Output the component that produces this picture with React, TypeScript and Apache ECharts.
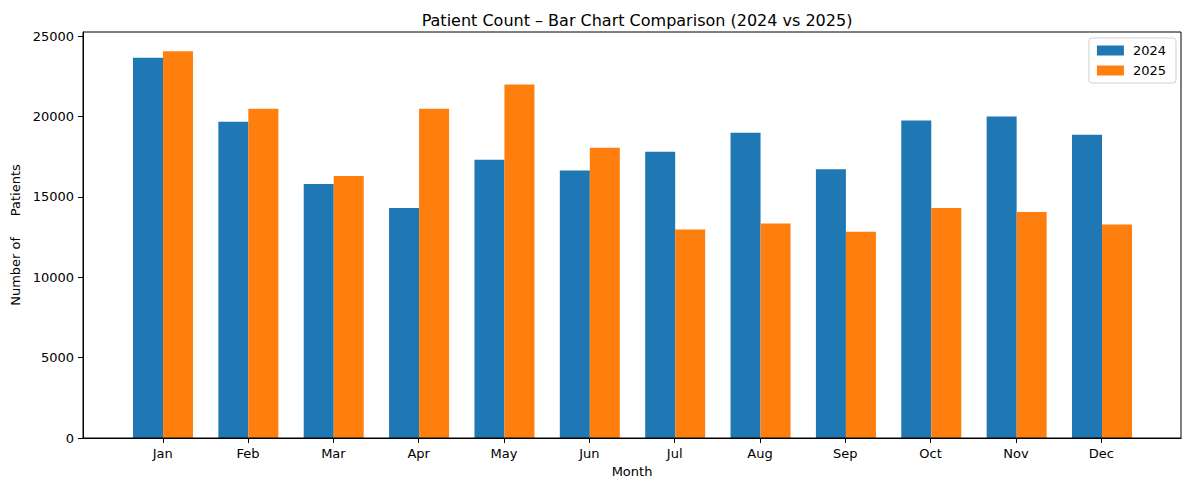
import React, { useEffect, useRef } from "react";
import * as echarts from "echarts";

const months = ["Jan", "Feb", "Mar", "Apr", "May", "Jun", "Jul", "Aug", "Sep", "Oct", "Nov", "Dec"];
const values2024 = [23650, 19670, 15800, 14300, 17300, 16640, 17800, 18980, 16720, 19750, 20000, 18860];
const values2025 = [24050, 20480, 16300, 20480, 21980, 18050, 12960, 13340, 12830, 14300, 14050, 13280];
const yTicks = [0, 5000, 10000, 15000, 20000, 25000];

const FONT = "DejaVu Sans";
const Y_MAX = 25250;

export default function App() {
  const ref = useRef<HTMLDivElement>(null);
  useEffect(() => {
    if (!ref.current) return;
    const chart = echarts.init(ref.current, null, { renderer: "svg" });
    const idx = months.map((_, i) => i);
    chart.setOption({
      animation: false,
      textStyle: { fontFamily: FONT },
      title: {
        text: "Patient Count \u2013 Bar Chart Comparison (2024 vs 2025)",
        left: 632,
        textAlign: "center",
        top: 7,
        textStyle: { fontFamily: FONT, fontSize: 16, fontWeight: "normal", color: "#000" },
      },
      legend: {
        orient: "vertical",
        right: 13,
        top: 38,
        itemWidth: 27,
        itemHeight: 10,
        itemGap: 7,
        icon: "rect",
        padding: [6, 10, 6, 8],
        borderColor: "#d0d0d0",
        borderWidth: 1,
        borderRadius: 3,
        backgroundColor: "rgba(255,255,255,0.8)",
        textStyle: { fontFamily: FONT, fontSize: 13, color: "#000", padding: [0, 0, 0, 4] },
        data: ["2024", "2025"],
      },
      grid: [
        {
          left: 83,
          right: 8,
          top: 32,
          bottom: 52,
          show: true,
          borderColor: "#000",
          borderWidth: 1,
          backgroundColor: "transparent",
          z: 5,
        },
        {
          left: 120.3,
          right: 44.3,
          top: 32,
          bottom: 52,
          show: false,
        },
      ],
      xAxis: [
        {
          type: "value",
          gridIndex: 0,
          min: -0.935,
          max: 11.935,
          name: "Month",
          nameLocation: "middle",
          nameGap: 27,
          nameTextStyle: { fontFamily: FONT, fontSize: 13, color: "#000" },
          axisLine: { show: true, onZero: false, lineStyle: { color: "#000", width: 1 } },
          axisTick: { show: true, length: 5, lineStyle: { color: "#000" }, customValues: idx },
          axisLabel: {
            customValues: idx,
            margin: 9,
            fontFamily: FONT,
            fontSize: 13,
            color: "#000",
            formatter: (v: number) => months[Math.round(v)] ?? "",
          },
          splitLine: { show: false },
          z: 6,
        },
        {
          type: "category",
          gridIndex: 1,
          data: months,
          show: false,
        },
      ],
      yAxis: [
        {
          type: "value",
          gridIndex: 0,
          min: 0,
          max: Y_MAX,
          name: "Number of\u00a0\u00a0\u00a0\u00a0 Patients",
          nameLocation: "middle",
          nameGap: 60,
          nameRotate: 90,
          nameTextStyle: { fontFamily: FONT, fontSize: 13, color: "#000" },
          axisLine: { show: true, onZero: false, lineStyle: { color: "#000", width: 1 } },
          axisTick: { show: true, length: 5, lineStyle: { color: "#000" }, customValues: yTicks },
          axisLabel: {
            customValues: yTicks,
            margin: 9,
            fontFamily: FONT,
            fontSize: 13,
            color: "#000",
            formatter: (v: number) => String(v),
          },
          splitLine: { show: false },
          z: 6,
        },
        {
          type: "value",
          gridIndex: 1,
          min: 0,
          max: Y_MAX,
          show: false,
          splitLine: { show: false },
        },
      ],
      series: [
        {
          name: "2024",
          type: "bar",
          xAxisIndex: 1,
          yAxisIndex: 1,
          barWidth: 30,
          barGap: "0%",
          itemStyle: { color: "#1f77b4" },
          data: values2024,
        },
        {
          name: "2025",
          type: "bar",
          xAxisIndex: 1,
          yAxisIndex: 1,
          barWidth: 30,
          barGap: "0%",
          itemStyle: { color: "#ff7f0e" },
          data: values2025,
        },
      ],
    });
    return () => chart.dispose();
  }, []);
  return (
    <div
      ref={ref}
      style={{ position: "fixed", left: 0, top: 0, width: 1189, height: 490, background: "#fff" }}
    />
  );
}
